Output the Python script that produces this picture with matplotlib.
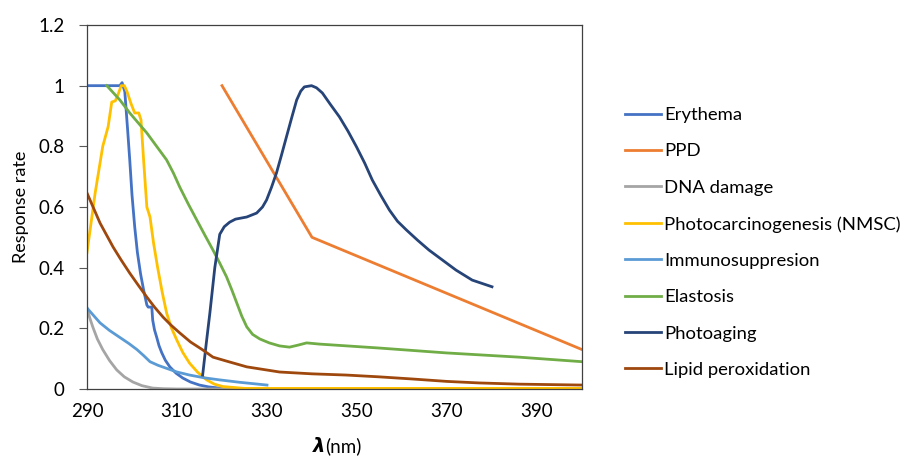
import numpy as np
import matplotlib
matplotlib.use('Agg')
import matplotlib.pyplot as plt

plt.rcParams['font.family'] = ['Lato', 'DejaVu Sans']

# wavelengths (nm) and response values
ery_x = [290, 297.3, 297.8, 298.4, 299.0, 299.5, 300.0, 300.6, 301.2, 301.9, 302.6, 303.3, 303.6, 304.4, 304.6, 305.0, 305.5, 306.0, 306.6, 307.4, 308.4, 309.8, 311.3, 313.0, 315, 317, 319.5, 325, 330, 400]
ery_y = [1.0, 1.0, 1.01, 0.98, 0.86, 0.755, 0.64, 0.535, 0.45, 0.38, 0.325, 0.277, 0.27, 0.27, 0.227, 0.195, 0.17, 0.143, 0.12, 0.095, 0.073, 0.052, 0.036, 0.023, 0.013, 0.007, 0.003, 0.001, 0.0, 0.0]

ppd_x = [320, 340, 400]
ppd_y = [1.0, 0.5, 0.13]

dna_x = [290, 290.6, 291.3, 292.3, 293.5, 295.0, 296.6, 298.3, 300.2, 302.2, 304.6, 307, 310, 400]
dna_y = [0.267, 0.235, 0.204, 0.165, 0.13, 0.094, 0.063, 0.04, 0.023, 0.011, 0.003, 0.001, 0.0, 0.0]

nmsc_x = [290, 291.8, 293.5, 294.7, 295.5, 296.3, 297.0, 297.6, 298.3, 298.9, 299.8, 300.6, 301.5, 302.0, 302.6, 303.3, 304.0, 304.8, 305.7, 306.7, 307.7, 308.8, 310, 311.3, 312.8, 314.6, 316.6, 318.3, 320.2, 325, 400]
nmsc_y = [0.45, 0.645, 0.8, 0.865, 0.946, 0.95, 0.975, 1.0, 1.0, 0.98, 0.94, 0.91, 0.91, 0.887, 0.75, 0.6, 0.567, 0.48, 0.40, 0.32, 0.25, 0.2, 0.16, 0.12, 0.085, 0.055, 0.03, 0.016, 0.008, 0.002, 0.002]

imm_x = [290, 292.9, 295.0, 297.3, 299.3, 301.1, 302.6, 304, 305.8, 307.7, 310, 312.8, 316, 319.5, 324, 330]
imm_y = [0.267, 0.218, 0.193, 0.17, 0.15, 0.13, 0.11, 0.09, 0.078, 0.068, 0.056, 0.046, 0.037, 0.03, 0.022, 0.013]

ela_x = [294.4, 297.3, 299.5, 303.3, 307.7, 309.2, 310.6, 312.5, 314.4, 316.2, 318, 319.5, 321, 322.2, 323.3, 324.4, 325.5, 326.8, 328.4, 330.5, 332.8, 335, 337, 338.8, 341.7, 355, 369.8, 386, 400]
ela_y = [1.0, 0.953, 0.91, 0.844, 0.755, 0.712, 0.666, 0.61, 0.557, 0.507, 0.458, 0.415, 0.37, 0.326, 0.283, 0.24, 0.205, 0.18, 0.165, 0.152, 0.142, 0.138, 0.145, 0.152, 0.148, 0.135, 0.119, 0.105, 0.09]

age_x = [315.7, 316.5, 317.3, 318.4, 319.5, 320.5, 321.7, 323.0, 325.5, 327.7, 329.0, 329.9, 331.0, 332.1, 333.2, 334.3, 335.5, 336.6, 337.5, 338.3, 339.9, 341.0, 342.3, 344.0, 346.1, 348.0, 349.9, 351.7, 353.4, 355.3, 357.2, 359.0, 361, 363.5, 366, 369, 372, 375.6, 380]
age_y = [0.046, 0.15, 0.25, 0.40, 0.51, 0.535, 0.55, 0.56, 0.567, 0.58, 0.60, 0.623, 0.665, 0.712, 0.77, 0.83, 0.895, 0.953, 0.982, 0.996, 1.0, 0.993, 0.976, 0.94, 0.897, 0.85, 0.798, 0.745, 0.689, 0.638, 0.59, 0.553, 0.524, 0.49, 0.458, 0.425, 0.392, 0.359, 0.337]

lip_x = [290, 292.9, 295.8, 297.6, 299.5, 301.4, 303.3, 305.0, 306.9, 308.7, 310.6, 313.0, 315.7, 318, 321, 325.5, 332.8, 340, 347.6, 355, 362.3, 370, 377.1, 386, 400]
lip_y = [0.646, 0.547, 0.468, 0.425, 0.382, 0.342, 0.303, 0.27, 0.237, 0.21, 0.185, 0.155, 0.129, 0.105, 0.092, 0.073, 0.056, 0.05, 0.046, 0.04, 0.033, 0.025, 0.02, 0.016, 0.013]

series = [
    ('Erythema', ery_x, ery_y, '#4472C4'),
    ('PPD', ppd_x, ppd_y, '#ED7D31'),
    ('DNA damage', dna_x, dna_y, '#A5A5A5'),
    ('Photocarcinogenesis (NMSC)', nmsc_x, nmsc_y, '#FFC000'),
    ('Immunosuppresion', imm_x, imm_y, '#5B9BD5'),
    ('Elastosis', ela_x, ela_y, '#70AD47'),
    ('Photoaging', age_x, age_y, '#264478'),
    ('Lipid peroxidation', lip_x, lip_y, '#9E480E'),
]

fig = plt.figure(figsize=(9.12, 4.57), dpi=100)
ax = fig.add_axes([87 / 912, 1 - 389 / 457, (582 - 87) / 912, (389 - 25) / 457])

for name, xs, ys, col in series:
    ax.plot(xs, ys, color=col, lw=2, label=name, solid_joinstyle='round')

ax.set_xlim(290, 400)
ax.set_ylim(0, 1.2)
ax.set_xticks([290, 310, 330, 350, 370, 390])
ax.set_yticks([0, 0.2, 0.4, 0.6, 0.8, 1.0, 1.2])
ax.set_yticklabels(['0', '0.2', '0.4', '0.6', '0.8', '1', '1.2'])
ax.tick_params(axis='y', length=6, width=0.8, color='#595959', labelsize=13.5, pad=10)
ax.tick_params(axis='x', length=0, labelsize=13.5, pad=10)
for s in ax.spines.values():
    s.set_color('#404040')
    s.set_linewidth(0.9)

ax.set_ylabel('Response rate', fontsize=13, labelpad=7)

# x label: bold italic lambda followed by (nm)
fig.text(0.357, 0.024, 'λ', fontsize=14, fontweight='bold', style='italic',
         ha='right', va='center', family=['DejaVu Sans'])
fig.text(0.357, 0.024, '(nm)', fontsize=13.5, ha='left', va='center')

fig.legend(loc='center left', bbox_to_anchor=(625 / 912, 1 - 242.5 / 457),
           frameon=False, fontsize=13.3, handlelength=1.95, handletextpad=0.15,
           labelspacing=1.1, borderpad=0, borderaxespad=0)

fig.savefig('out.png', dpi=100)
